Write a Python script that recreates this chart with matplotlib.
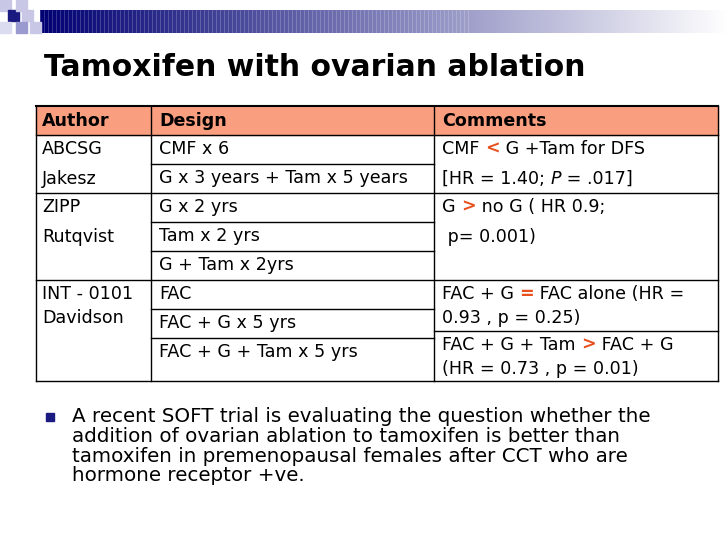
import numpy as np
import matplotlib.pyplot as plt
from matplotlib.patches import Rectangle

plt.rcParams["font.family"] = "DejaVu Sans"

title = "Tamoxifen with ovarian ablation"
headers = ["Author", "Design", "Comments"]
authors = [["ABCSG", "Jakesz"], ["ZIPP", "Rutqvist"], ["INT - 0101", "Davidson"]]
designs = [
    ["CMF x 6", "G x 3 years + Tam x 5 years"],
    ["G x 2 yrs", "Tam x 2 yrs", "G + Tam x 2yrs"],
    ["FAC", "FAC + G x 5 yrs", "FAC + G + Tam x 5 yrs"],
]
# each comment line is a list of (text, highlighted) segments
comments = [
    [[[("CMF ", 0), ("<", 1), (" G +Tam for DFS", 0)],
      [("[HR = 1.40; ", 0), ("P", 2), (" = .017]", 0)]]],
    [[[("G ", 0), (">", 1), (" no G ( HR 0.9;", 0)],
      [(" p= 0.001)", 0)]]],
    [[[("FAC + G ", 0), ("=", 1), (" FAC alone (HR =", 0)],
      [("0.93 , p = 0.25)", 0)]],
     [[("FAC + G + Tam ", 0), (">", 1), (" FAC + G", 0)],
      [("(HR = 0.73 , p = 0.01)", 0)]]],
]
bullet = ("A recent SOFT trial is evaluating the question whether the\n"
          "addition of ovarian ablation to tamoxifen is better than\n"
          "tamoxifen in premenopausal females after CCT who are\n"
          "hormone receptor +ve.")

W, H = 728, 546
fig = plt.figure(figsize=(W / 100, H / 100), dpi=100)
ax = fig.add_axes([0, 0, 1, 1])
ax.set_xlim(0, W)
ax.set_ylim(H, 0)
ax.axis("off")

# ---- banner ----
grad = np.linspace(0, 1, 256)[None, :]
navy = np.array([0.0, 0.0, 0.45])
img = navy[None, None, :] * (1 - grad[..., None]) + np.ones(3)[None, None, :] * grad[..., None]
ax.imshow(img, extent=(40, W, 33, 10), aspect="auto", zorder=1)
for x in np.arange(40, 470, 4):
    ax.plot([x, x], [10, 33], color="white", lw=0.4, alpha=0.35, zorder=2)
sq = [(0, 0, "#c8c8e6"), (8, 10, "#1a1a80"), (16, 0, "#c8c8e6"), (22, 10, "#c8c8e6"),
      (16, 22, "#9a9ad0"), (0, 22, "#dcdcf0"), (30, 22, "#c8c8e6")]
for x, y, c in sq:
    ax.add_patch(Rectangle((x, y), 11, 11, color=c, zorder=3))

ax.text(44, 67, title, fontsize=21.5, fontweight="bold", va="center", ha="left")

# ---- table ----
L, C1, C2, R = 36, 151, 434, 718
top, hb = 106, 135
row_h = 29
fs = 12.6
red = "#e8501e"
ax.add_patch(Rectangle((L, top), R - L, hb - top, color="#fa9e80", zorder=1))
for x, h in zip([L + 6, C1 + 8, C2 + 8], headers):
    ax.text(x, (top + hb) / 2 + 1, h, fontsize=fs, fontweight="bold", va="center")

fig.canvas.draw()
rend = fig.canvas.get_renderer()


def seg_line(x, y, segs):
    for txt, hl in segs:
        kw = dict(fontsize=fs, va="center", ha="left")
        if hl == 1:
            kw.update(color=red, fontweight="bold")
        elif hl == 2:
            kw.update(style="italic")
        t = ax.text(x, y, txt, **kw)
        bb = t.get_window_extent(renderer=rend)
        x += bb.width


y0 = hb
line_kw = dict(color="black", lw=1)
for a, d, c in zip(authors, designs, comments):
    n = len(d)
    y1 = y0 + n * row_h
    if n == 3 and len(c) == 2:
        y1 = y0 + 3 * row_h + 14
    for i, name in enumerate(a):
        ax.text(L + 6, y0 + 14 + i * 30 if n < 3 else y0 + 14 + i * (30 if a[0] == "ZIPP" else 24),
                name, fontsize=fs, va="center")
    for i, dtxt in enumerate(d):
        ax.text(C1 + 8, y0 + 14 + i * row_h, dtxt, fontsize=fs, va="center")
        if i > 0:
            ax.plot([C1, C2], [y0 + i * row_h] * 2, **line_kw)
    cy = y0
    for j, block in enumerate(c):
        if j > 0:
            cy = y0 + 2 * row_h - 7
            ax.plot([C2, R], [cy, cy], **line_kw)
        for k, ln in enumerate(block):
            seg_line(C2 + 8, cy + 14 + k * (24 if len(c) == 2 else 30), ln)
    ax.plot([L, R], [y1, y1], **line_kw)
    y0 = y1

for x in [L, C1, C2, R]:
    ax.plot([x, x], [top, y0], **line_kw)
ax.plot([L, R], [top, top], lw=1.5, color="black")
ax.plot([L, R], [hb, hb], **line_kw)

# ---- bullet ----
ax.add_patch(Rectangle((46, 413), 8, 8, color="#1a1a80"))
ax.text(72, 407, bullet, fontsize=14.3, va="top", ha="left", linespacing=1.05)

fig.savefig("out.png", dpi=100)
